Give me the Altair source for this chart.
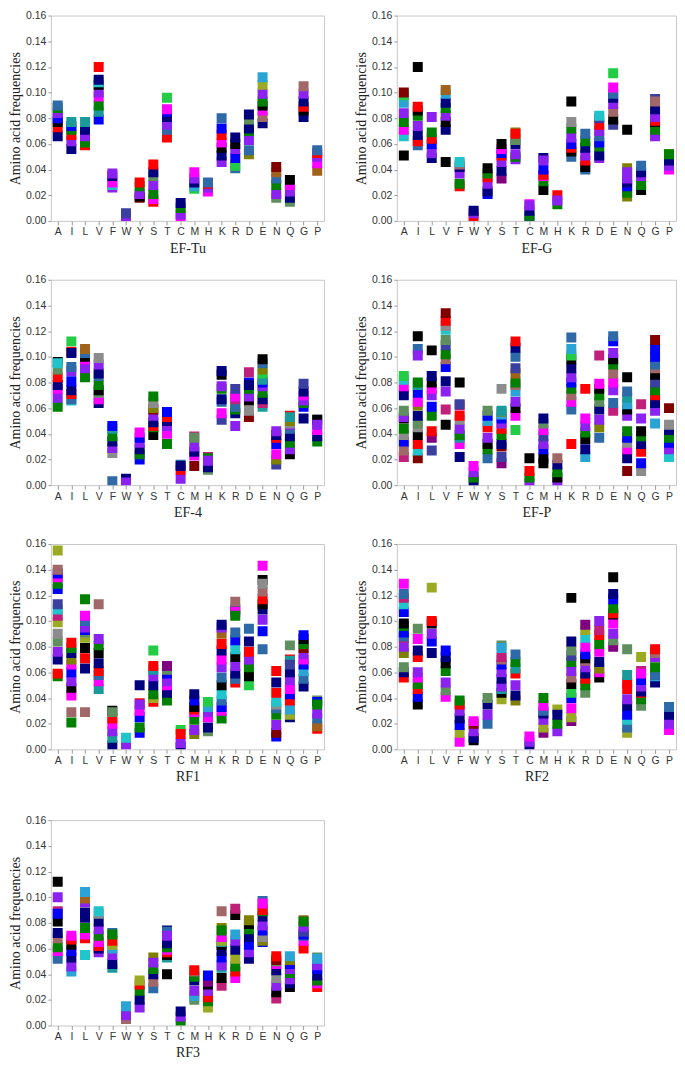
import sys
import altair as alt
import pandas as pd

AMINO = ["A", "I", "L", "V", "F", "W", "Y", "S", "T", "C",
         "M", "H", "K", "R", "D", "E", "N", "Q", "G", "P"]

# colour keys used by the markers
COLORS = {
    "k": "#000000", "n": "#00007F", "b": "#0000FF", "p": "#8B22F0",
    "m": "#FF00FF", "r": "#FF0000", "g": "#008000", "G": "#22CC44",
    "c": "#22C4CC", "t": "#1A9A9A", "s": "#2F6AA8", "S": "#2AA4D4",
    "o": "#9AAA22", "O": "#808000", "w": "#A0631E", "M": "#800000",
    "R": "#A06868", "e": "#8C8C8C", "q": "#5F8F5F", "d": "#800080",
    "v": "#C0207A", "i": "#3B3F9F",
}

# each entry: (colour keys in drawing order, frequencies in thousandths)
EF_TU = {
    "A": ("nrkbpgs", [66, 73, 77, 80, 84, 88, 90]),
    "I": ("nprgbt", [56, 62, 67, 71, 74, 77]),
    "L": ("rgpnt", [59, 61, 66, 71, 77]),
    "V": ("btgmpkcnr", [79, 85, 90, 97, 100, 106, 108, 110, 120]),
    "F": ("pcmnp", [26, 28, 30, 35, 37]),
    "W": ("pi", [3, 6]),
    "Y": ("Mkpgr", [18, 19, 21, 27, 30]),
    "S": ("rmgpqnr", [15, 17, 21, 28, 35, 38, 44]),
    "T": ("rspnbmG", [65, 71, 75, 81, 85, 87, 96]),
    "C": ("mpgn", [2, 5, 10, 14]),
    "M": ("GSnpm", [25, 27, 30, 33, 38]),
    "H": ("mprs", [23, 26, 29, 30]),
    "K": ("pnkmrbs", [46, 51, 57, 61, 67, 72, 80]),
    "R": ("sGbpkn", [41, 43, 49, 56, 60, 65]),
    "D": ("Ospgnqn", [52, 55, 63, 70, 72, 79, 83]),
    "E": ("nRmkgpoS", [76, 81, 86, 90, 93, 99, 106, 112]),
    "N": ("qpgswM", [18, 21, 28, 33, 38, 42]),
    "Q": ("qnpmk", [15, 18, 23, 28, 32]),
    "G": ("nkrnpR", [81, 86, 89, 93, 99, 105]),
    "P": ("wmprs", [39, 45, 50, 53, 55]),
}

EF_G = {
    "A": ("kcmgpSGM", [51, 66, 71, 77, 84, 92, 98, 100]),
    "I": ("srnpgkrk", [59, 62, 67, 74, 82, 86, 89, 120]),
    "L": ("npbrgp", [49, 53, 60, 64, 69, 81]),
    "V": ("knkpgnSw", [46, 71, 77, 82, 88, 92, 99, 102]),
    "F": ("rgpnRc", [27, 29, 37, 42, 44, 46]),
    "W": ("rpn", [3, 6, 8]),
    "Y": ("bnprgk", [21, 23, 29, 34, 37, 41]),
    "S": ("dnprbmk", [33, 39, 46, 51, 53, 56, 60]),
    "T": ("pgpnqOr", [48, 50, 52, 60, 63, 69, 68]),
    "C": ("bgnmp", [2, 4, 8, 13, 12]),
    "M": ("kgmrbnp", [24, 31, 35, 36, 40, 49, 47]),
    "H": ("grp", [13, 20, 16]),
    "K": ("skrbpgek", [50, 54, 57, 60, 65, 72, 77, 93]),
    "R": ("skrpngs", [40, 42, 47, 51, 57, 62, 68]),
    "D": ("pngbspric", [49, 51, 58, 61, 66, 70, 75, 80, 82]),
    "E": ("ikRpnsmG", [75, 79, 85, 91, 96, 99, 104, 115]),
    "N": ("OgbnpOpk", [19, 22, 27, 30, 33, 41, 38, 71]),
    "Q": ("kgpns", [24, 28, 35, 38, 43]),
    "G": ("ipgkrpnR", [95, 66, 71, 77, 78, 81, 87, 93]),
    "P": ("Ompng", [52, 40, 43, 47, 52]),
}

EF_4 = {
    "A": ("kgpmnrqc", [96, 61, 68, 75, 78, 84, 90, 95]),
    "I": ("csrnbpsrnG", [66, 67, 71, 74, 81, 89, 92, 104, 103, 112]),
    "L": ("gpmksw", [84, 91, 98, 100, 103, 106]),
    "V": ("nmqkgsnpe", [64, 67, 72, 74, 78, 85, 87, 94, 99]),
    "F": ("sepngtb", [3, 25, 29, 34, 38, 44, 46]),
    "W": ("np", [5, 2]),
    "Y": ("bgnpbm", [20, 24, 28, 33, 37, 41]),
    "S": ("kgrnpMOeg", [39, 45, 46, 49, 54, 59, 60, 64, 69]),
    "T": ("gmpnrb", [32, 40, 46, 50, 53, 57]),
    "C": ("sprn", [16, 5, 12, 15]),
    "M": ("vMmnpq", [38, 15, 23, 26, 30, 37]),
    "H": ("vqngp", [22, 12, 14, 21, 19]),
    "K": ("imsngpkn", [51, 56, 65, 67, 75, 77, 86, 89]),
    "R": ("pngsvmi", [46, 56, 59, 61, 67, 69, 75]),
    "D": ("bMekpgnv", [80, 53, 58, 66, 69, 75, 78, 88]),
    "E": ("tvngpbtGOsk", [61, 64, 67, 72, 77, 80, 82, 87, 90, 95, 98]),
    "N": ("iOmbrnp", [16, 20, 24, 32, 37, 39, 42]),
    "Q": ("rkpgnspeOt", [54, 24, 28, 33, 38, 44, 47, 48, 50, 53]),
    "G": ("nbgpmni", [52, 61, 64, 66, 70, 73, 79]),
    "P": ("ikgnmp", [51, 51, 34, 38, 43, 47]),
}

EF_P = {
    "A": ("vRbegkpqnmcG", [22, 27, 34, 39, 44, 52, 53, 58, 70, 77, 82, 85]),
    "I": ("McrkeqnOmbtgspk", [21, 27, 32, 39, 45, 48, 54, 62, 65, 72, 78, 80, 106, 101, 116]),
    "L": ("idrgbpmknk", [27, 37, 42, 54, 61, 70, 75, 80, 85, 105]),
    "V": ("pnbRgiqcerMvk", [73, 81, 92, 98, 102, 109, 113, 121, 124, 128, 134, 59, 47]),
    "F": ("nmtgpervik", [22, 32, 37, 39, 44, 51, 54, 62, 63, 80]),
    "W": ("ngpm", [3, 6, 10, 15]),
    "Y": ("sgkprSbq", [21, 28, 32, 37, 45, 50, 54, 58]),
    "S": ("diMngrpbSqte", [17, 22, 30, 32, 39, 44, 48, 52, 55, 57, 58, 75]),
    "T": ("GmkpSRgwisnr", [43, 54, 60, 65, 73, 78, 80, 87, 91, 100, 107, 112]),
    "C": ("pgrk", [2, 6, 11, 21]),
    "M": ("kkbpimqn", [17, 21, 28, 32, 38, 43, 48, 52]),
    "H": ("pkgnR", [2, 6, 10, 16, 21]),
    "K": ("rsmRgbpnkGSs", [32, 59, 65, 70, 75, 80, 84, 91, 98, 101, 106, 115]),
    "R": ("Snkgpmr", [22, 28, 36, 41, 46, 52, 75]),
    "D": ("sOpnqgkmv", [37, 45, 51, 59, 65, 70, 75, 79, 101]),
    "E": ("vspmRgkpbs", [58, 64, 74, 80, 87, 94, 98, 103, 112, 116]),
    "N": ("MnmebgpkStsk", [11, 21, 28, 33, 37, 42, 54, 59, 63, 68, 73, 84]),
    "Q": ("ebrngkpv", [11, 17, 26, 32, 38, 42, 52, 63]),
    "G": ("SpnrgikRsbbM", [48, 58, 64, 70, 74, 80, 86, 91, 94, 100, 106, 113]),
    "P": ("cpbgneM", [22, 28, 33, 37, 43, 47, 60]),
}

RF1 = {
    "A": ("grnpqeovcibgmbRo", [57, 59, 70, 76, 84, 90, 99, 104, 109, 113, 125, 129, 134, 137, 140, 155]),
    "I": ("gRmkpbmOngr", [21, 29, 42, 48, 53, 60, 66, 70, 75, 79, 83]),
    "L": ("Rnrkoqbpsmg", [29, 63, 71, 79, 87, 91, 93, 95, 100, 104, 117]),
    "V": ("tmsrnkgpR", [47, 53, 58, 61, 67, 75, 81, 86, 113]),
    "F": ("kntpmrq", [30, 3, 9, 14, 20, 24, 29]),
    "W": ("pc", [3, 9]),
    "Y": ("rbgbmpn", [36, 13, 17, 25, 30, 35, 50]),
    "S": ("rognptrG", [37, 40, 43, 50, 57, 62, 65, 77]),
    "T": ("gnmpbqd", [38, 44, 50, 53, 59, 62, 65]),
    "C": ("Gnpr", [15, 2, 5, 12]),
    "M": ("Opgmrkbn", [12, 15, 23, 29, 31, 33, 38, 43]),
    "H": ("qnmpSG", [14, 17, 25, 29, 33, 37]),
    "K": ("gmbsckspmnrwpn", [24, 30, 33, 38, 43, 50, 56, 64, 70, 77, 82, 90, 95, 97]),
    "R": ("rsnpkcbsbmgR", [52, 55, 59, 65, 72, 78, 85, 91, 109, 107, 104, 115]),
    "D": ("Gkgprns", [50, 57, 64, 70, 76, 84, 94]),
    "E": ("sbpnkrkRem", [78, 92, 101, 109, 113, 117, 132, 123, 129, 143]),
    "N": ("bMpgsecrnr", [10, 13, 19, 27, 32, 35, 37, 44, 52, 61]),
    "Q": ("rtnoSrbmpniq", [70, 69, 25, 27, 31, 38, 43, 47, 54, 60, 66, 81]),
    "G": ("nsSbmpMgkb", [49, 55, 61, 66, 70, 74, 79, 82, 86, 89]),
    "P": ("qbrwspg", [38, 37, 16, 18, 24, 28, 35]),
}

RF2 = {
    "A": ("rnqOpvsbgkbcvsm", [56, 60, 64, 75, 80, 87, 88, 91, 96, 98, 107, 113, 118, 121, 129]),
    "I": ("kbrgmprnmq", [35, 41, 47, 51, 56, 60, 72, 77, 86, 94]),
    "L": ("nbpkro", [75, 84, 90, 98, 100, 126]),
    "V": ("mqpgknb", [41, 46, 52, 61, 67, 72, 77]),
    "F": ("mobnprg", [6, 13, 19, 24, 30, 35, 38]),
    "W": ("knpMm", [7, 9, 14, 20, 22]),
    "Y": ("spnq", [20, 27, 35, 40]),
    "S": ("qoktpnpbRvS", [81, 39, 44, 47, 49, 55, 60, 66, 70, 72, 79]),
    "T": ("Onprtgs", [38, 42, 50, 59, 63, 68, 74]),
    "C": ("npm", [2, 6, 10]),
    "M": ("dopnsmg", [13, 17, 23, 28, 30, 34, 40]),
    "H": ("opgn", [31, 14, 20, 27]),
    "K": ("dombGkRpgiqnk", [22, 25, 32, 40, 44, 51, 56, 61, 68, 73, 77, 84, 118]),
    "R": ("qgrnpRkbmcod", [44, 50, 55, 59, 64, 69, 71, 74, 80, 87, 93, 97]),
    "D": ("kmOnmgrvp", [56, 60, 63, 68, 76, 82, 89, 93, 100]),
    "E": ("dqpmkrgbnk", [80, 85, 90, 98, 105, 106, 110, 117, 121, 134]),
    "N": ("oscbnprrtq", [13, 17, 23, 27, 34, 39, 47, 52, 58, 78]),
    "Q": ("vqgrnpbmo", [61, 34, 39, 44, 45, 49, 54, 59, 72]),
    "G": ("nSsgpRr", [52, 57, 58, 64, 72, 75, 78]),
    "P": ("mpns", [15, 20, 27, 33]),
}

RF3 = {
    "A": ("smgRnkvbpk", [52, 58, 61, 68, 72, 81, 89, 87, 100, 112]),
    "I": ("Spnbkrm", [42, 46, 53, 58, 63, 67, 70]),
    "L": ("crmgnnpwS", [55, 68, 71, 76, 84, 88, 96, 99, 104]),
    "V": ("pnrmgpnec", [57, 60, 62, 65, 70, 75, 81, 87, 89]),
    "F": ("stnpSorg", [72, 45, 48, 55, 60, 63, 66, 71]),
    "W": ("RpS", [5, 8, 15]),
    "Y": ("pngro", [14, 20, 27, 32, 35]),
    "S": ("OsRngp", [53, 29, 34, 40, 44, 49]),
    "T": ("knstkrmgnp", [40, 74, 73, 53, 55, 57, 59, 61, 64, 70]),
    "C": ("gpn", [2, 7, 11]),
    "M": ("qSpngRr", [20, 23, 27, 35, 38, 42, 43]),
    "H": ("ogrpkdb", [14, 19, 22, 27, 32, 34, 39]),
    "K": ("vktpbnktomOgR", [31, 37, 45, 47, 53, 58, 63, 65, 66, 69, 76, 74, 89]),
    "R": ("mrgonpSkv", [37, 42, 46, 52, 59, 66, 71, 86, 91]),
    "D": ("npbngkO", [52, 57, 63, 69, 75, 79, 82]),
    "E": ("sbOebpngrm", [97, 65, 66, 69, 74, 78, 85, 89, 90, 95]),
    "N": ("vkpenmqMr", [21, 26, 31, 37, 43, 48, 50, 51, 54]),
    "Q": ("knpgpbOS", [30, 33, 36, 41, 44, 48, 51, 54]),
    "G": ("wrmsbipg", [82, 60, 66, 70, 71, 73, 77, 81]),
    "P": ("qrmgnbpS", [53, 30, 33, 35, 39, 44, 47, 52]),
}

PANELS = [("EF-Tu", EF_TU), ("EF-G", EF_G), ("EF-4", EF_4), ("EF-P", EF_P),
          ("RF1", RF1), ("RF2", RF2), ("RF3", RF3)]

rows = []
for name, table in PANELS:
    for aa in AMINO:
        keys, vals = table[aa]
        if len(keys) != len(vals):
            print("length mismatch", name, aa, file=sys.stderr)
        for j, (k, v) in enumerate(zip(keys, vals)):
            rows.append({"panel": name, "aa": aa, "freq": v / 1000.0, "col": k, "ord": j})
df = pd.DataFrame(rows)

Y_TICKS = [0.0, 0.02, 0.04, 0.06, 0.08, 0.10, 0.12, 0.14, 0.16]
PLOT_H = 206


def panel(name, width):
    return alt.Chart(df[df["panel"] == name]).mark_square(
        size=100, opacity=1, filled=True, clip=True
    ).encode(
        x=alt.X("aa:N", sort=AMINO,
                scale=alt.Scale(type="point", domain=AMINO, padding=0.5),
                axis=alt.Axis(title=name, labelAngle=0, titlePadding=4,
                              labelPadding=2, tickSize=4)),
        y=alt.Y("freq:Q",
                scale=alt.Scale(domain=[0, 0.16], nice=False, zero=True),
                axis=alt.Axis(title="Amino acid frequencies", values=Y_TICKS,
                              format=".2f", tickSize=3, labelPadding=2,
                              titlePadding=3)),
        color=alt.Color("col:N",
                        scale=alt.Scale(domain=list(COLORS.keys()),
                                        range=list(COLORS.values())),
                        legend=None),
        order=alt.Order("ord:Q"),
    ).properties(width=width, height=PLOT_H)


row1 = alt.hconcat(panel("EF-Tu", 274), panel("EF-G", 280), spacing=29)
row2 = alt.hconcat(panel("EF-4", 274), panel("EF-P", 280), spacing=29)
row3 = alt.hconcat(panel("RF1", 274), panel("RF2", 280), spacing=29)
row4 = panel("RF3", 274)

top_rows = alt.vconcat(row1, row2, row3, spacing=18)

chart = alt.vconcat(top_rows, row4, spacing=30).properties(
    padding={"left": 0, "top": 0, "right": 0, "bottom": 0}
).configure_axis(
    labelFont="Liberation Sans", labelFontSize=10.5, labelColor="#333333",
    titleFont="Liberation Serif", titleFontSize=14, titleFontWeight="normal",
    titleColor="#222222", tickColor="#9A9A9A", domain=False, grid=False,
).configure_view(stroke="#C8C8C8", strokeWidth=1)

chart.save("out.html", embed_options={"renderer": "svg", "actions": False})
